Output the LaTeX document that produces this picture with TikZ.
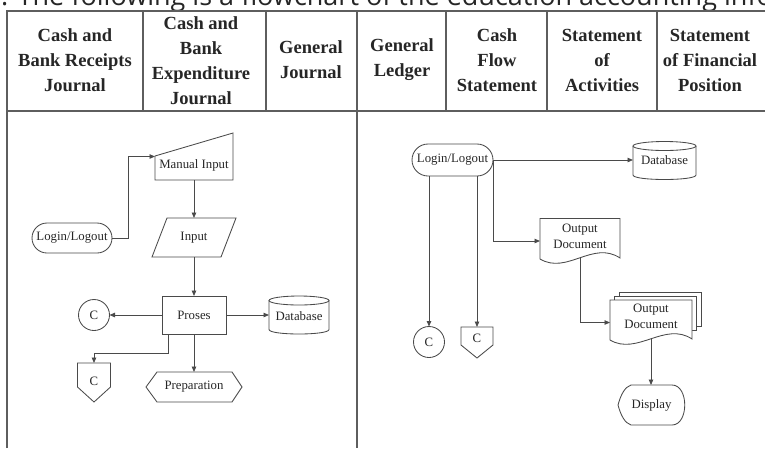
\documentclass[tikz,border=0pt]{standalone}
\usepackage{fontspec}
\setmainfont{Liberation Serif}
\newfontfamily\osans{Open Sans}
\usetikzlibrary{arrows.meta,calc}
\definecolor{lc}{HTML}{4A4A4A}
\definecolor{tc}{HTML}{262626}
\definecolor{gc}{HTML}{5E5E5E}
\begin{document}
\begin{tikzpicture}[x=1pt,y=-1pt,
  tbl/.style={draw=gc, line width=1.1pt},
  ln/.style={draw=lc, line width=0.85pt},
  arr/.style={ln, -{Triangle[length=5.5pt,width=4.5pt]}},
  lbl/.style={font=\fontsize{12.8}{16}\selectfont, text=tc, align=center, inner sep=0pt, outer sep=0pt},
  hd/.style={font=\bfseries\fontsize{18.5}{25}\selectfont, text=tc, align=center, inner sep=0pt},
  ghost/.style={inner sep=0pt, outer sep=0pt},
]
\clip (0,0) rectangle (765,448);
\useasboundingbox (0,0) rectangle (765,448);

% cut-off sentence at the top
\node[anchor=base west, inner sep=0pt, font=\osans\fontsize{27}{30}\selectfont, text=black!85] (intro) at (1,5) {. The following is a flowchart of the education accounting info};

% table
\draw[tbl] (7,448) -- (7,11) -- (765,11);
\draw[tbl] (7,111) -- (765,111);
\foreach \x in {143,266,446,547,657} \draw[tbl] (\x,11) -- (\x,111);
\draw[tbl] (357,11) -- (357,448);

\node[hd] (h1) at (75,60) {Cash and\\Bank Receipts\\Journal};
\node[hd] (h2) at (201,61) {Cash and\\Bank\\Expenditure\\Journal};
\node[hd] (h3) at (311,60) {General\\Journal};
\node[hd] (h4) at (402,60) {General\\Ledger};
\node[hd] (h5) at (497,60) {Cash\\Flow\\Statement};
\node[hd] (h6) at (602,60) {Statement\\of\\Activities};
\node[hd] (h7) at (710,60) {Statement\\of Financial\\Position};

% ---------- left panel ----------
\node[ln, lbl, rounded corners=15pt, minimum width=80pt, minimum height=30pt] (loginL) at (72,238) {Login/Logout};

\node[ghost, minimum width=78pt, minimum height=47pt] (manual) at (194,156.5) {};
\draw[ln] (155,180) -- (233,180) -- (233,133) -- (155,156) -- cycle;
\node[lbl] (manualT) at (194,165) {Manual Input};

\node[ghost, lbl, minimum width=84pt, minimum height=39pt] (input) at (194,237.5) {Input};
\draw[ln] (152,257) -- (221,257) -- (236,218) -- (167,218) -- cycle;

\node[ln, lbl, minimum width=64pt, minimum height=38pt] (proses) at (194,315) {Proses};

\node[ln, lbl, circle, minimum size=31pt] (cL) at (94,315) {C};

\node[ghost, lbl, minimum width=60pt, minimum height=38pt] (dbL) at (299,316) {Database};
\draw[ln] (299,300.5) ellipse [x radius=30pt, y radius=4.5pt];
\draw[ln] (269,300.5) -- (269,329.5) .. controls (269,335.5) and (329,335.5) .. (329,329.5) -- (329,300.5);

\node[ghost, minimum width=33pt, minimum height=39pt] (offL) at (94,382.5) {};
\draw[ln] (77.5,363) -- (110.5,363) -- (110.5,387) -- (94,402) -- (77.5,387) -- cycle;
\node[lbl] (offLT) at (94,381.5) {C};

\node[ghost, lbl, minimum width=96pt, minimum height=30pt] (prep) at (194,387) {Preparation};
\draw[ln] (157,372) -- (232,372) -- (242,387) -- (232,402) -- (157,402) -- (146,387) -- cycle;

\draw[arr] (loginL.east) -- ++(16,0) |- (manual.west);
\draw[arr] (manual.south) -- (input.north);
\draw[arr] (input.south) -- (proses.north);
\draw[arr] (proses.west) -- (cL.east);
\draw[arr] (proses.east) -- (proses.east -| dbL.west);
\draw[arr] ($(proses.south west)+(6,0)$) -- ++(0,19) -| (offL.north);
\draw[arr] (proses.south) -- (prep.north);

% ---------- right panel ----------
\node[ln, lbl, rounded corners=16pt, minimum width=81pt, minimum height=32pt] (loginR) at (452.5,160) {Login/Logout};

\node[ghost, lbl, minimum width=63pt, minimum height=39pt] (dbR) at (664.5,160.5) {Database};
\draw[ln] (664.5,146) ellipse [x radius=31.5pt, y radius=4.5pt];
\draw[ln] (633,146) -- (633,175) .. controls (633,181) and (696,181) .. (696,175) -- (696,146);

\node[ln, lbl, circle, minimum size=31pt] (cR) at (429,342) {C};

\node[ghost, minimum width=32pt, minimum height=31pt] (offR) at (477,342.5) {};
\draw[ln] (461,327) -- (493,327) -- (493,345) -- (477,358) -- (461,345) -- cycle;
\node[lbl] (offRT) at (477,338.5) {C};

\node[ghost, minimum width=80pt, minimum height=45pt] (od1) at (580,241) {};
\draw[ln] (540,218.5) -- (620,218.5) -- (620,258) .. controls (593,240) and (567,275) .. (540,259) -- cycle;
\node[lbl] (od1T) at (580,236) {Output\\Document};

\node[ghost, minimum width=82pt, minimum height=45pt] (od2) at (651,322.5) {};
\draw[ln, fill=white] (619,292) -- (701,292) -- (701,326) -- (619,326) -- cycle;
\draw[ln, fill=white] (614.5,296) -- (696.5,296) -- (696.5,330) -- (614.5,330) -- cycle;
\draw[ln, fill=white] (610,300) -- (692,300) -- (692,339) .. controls (665,321) and (637,356) .. (610,340) -- cycle;
\node[lbl] (od2T) at (651,316.5) {Output\\Document};

\node[ghost, lbl, minimum width=67pt, minimum height=40pt] (disp) at (651.5,405) {Display};
\draw[ln] (618,405) .. controls (621,394) and (625,387) .. (631,385) -- (672,385)
  .. controls (689,385) and (689,425) .. (672,425) -- (631,425)
  .. controls (625,423) and (621,416) .. (618,405) -- cycle;

\draw[arr] (loginR.east) -- (loginR.east -| dbR.west);
\draw[arr] (loginR.east) |- (od1.west);
\draw[arr] (cR.north |- loginR.south) -- (cR.north);
\draw[arr] (offR.north |- loginR.south) -- (offR.north);
\draw[arr] ($(od1.south)+(0,-5.5)$) |- (od2.west);
\draw[arr] ($(od2.south)+(0,-6)$) -- (od2.south |- disp.north);
\end{tikzpicture}
\end{document}
